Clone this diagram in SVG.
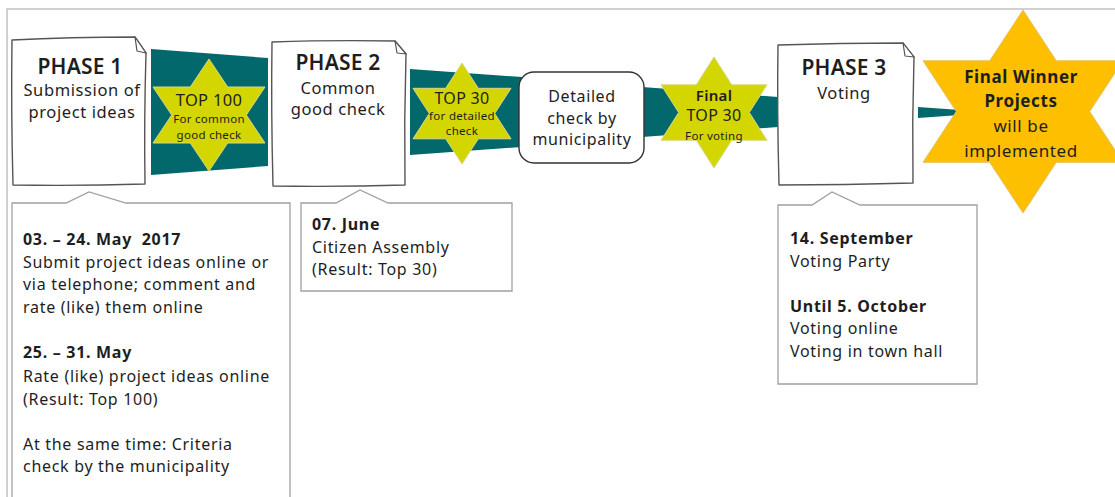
<svg xmlns="http://www.w3.org/2000/svg" width="1115" height="497" viewBox="0 0 1115 497">
<style>
text{font-family:"Noto Sans","Open Sans","DejaVu Sans",sans-serif;fill:#1e1e1e}
.doc{fill:#fff;stroke:#555;stroke-width:1.4;stroke-linejoin:round}
.fold{fill:#fff;stroke:#555;stroke-width:1.2;stroke-linejoin:round}
.band{fill:#02686b}
.ystar{fill:#d3d600;stroke:#d6d88a;stroke-width:1}
.gstar{fill:#fdbf00;stroke:#e8c060;stroke-width:1}
.call{fill:#fff;stroke:#a0a0a0;stroke-width:1.3}
.ph{font-size:21px;font-weight:600;text-anchor:middle;letter-spacing:0.2px}
.sub{font-size:16.5px;text-anchor:middle;letter-spacing:0.6px}
.st1{font-size:16px;text-anchor:middle;letter-spacing:0.3px}
.st2{font-size:11.5px;text-anchor:middle;letter-spacing:0.3px}
.ct{font-size:16px;letter-spacing:0.7px;white-space:pre}
.b{font-weight:700}
</style>
<path d="M7,497 V9 H1115" fill="none" stroke="#d0d0d0" stroke-width="2"/>
<g id="connectors">
<polygon class="band" points="151,49 268,58 268,166 151,175"/>
<polygon class="band" points="410,69 522,77 522,147 410,155"/>
<polygon class="band" points="642,87 778,97 778,127 642,137"/>
<polygon class="band" points="918,107 960,110 960,115 918,118"/>
</g>
<g id="phase1">
<path class="doc" d="M12,40 Q70,37 135,37 L146,53 Q144,120 145,184 Q80,186 13,185 Q11,110 12,40 Z"/>
<path class="fold" d="M135,37 L137,51 L146,53 Z"/>
<text class="ph" x="80" y="74">PHASE 1</text>
<text class="sub" x="82" y="96">Submission of</text>
<text class="sub" x="82" y="118">project ideas</text>
</g>
<g id="top100">
<path class="ystar" d="M209,59 L227.7,87 L265,87 L246.3,115 L265,143 L227.7,143 L209,171 L190.3,143 L153,143 L171.7,115 L153,87 L190.3,87 Z"/>
<text class="st1" x="209" y="106" style="font-size:16.5px">TOP 100</text>
<text class="st2" x="209" y="123">For common</text>
<text class="st2" x="209" y="139">good check</text>
</g>
<g id="phase2">
<path class="doc" d="M272,42 Q330,40 395,41 L406,54 Q404,120 405,185 Q340,187 273,186 Q271,110 272,42 Z"/>
<path class="fold" d="M395,41 L397,53 L406,54 Z"/>
<text class="ph" x="338" y="70">PHASE 2</text>
<text class="sub" x="338" y="94">Common</text>
<text class="sub" x="338" y="115">good check</text>
</g>
<g id="top30">
<path class="ystar" d="M462,63 L478.3,88.3 L511,88.3 L494.7,113.5 L511,138.8 L478.3,138.8 L462,164 L445.7,138.8 L413,138.8 L429.3,113.5 L413,88.3 L445.7,88.3 Z"/>
<text class="st1" x="462" y="104">TOP 30</text>
<text class="st2" x="462" y="120">for detailed</text>
<text class="st2" x="462" y="135">check</text>
</g>
<g id="detailed">
<rect x="519" y="72" width="125" height="91" rx="15" fill="#fff" stroke="#333" stroke-width="1.4"/>
<text class="sub" x="582" y="102" style="font-size:16px">Detailed</text>
<text class="sub" x="582" y="124" style="font-size:16px">check by</text>
<text class="sub" x="582" y="145" style="font-size:16px">municipality</text>
</g>
<g id="finaltop30">
<path class="ystar" d="M714,57 L731.7,84.8 L767,84.8 L749.3,112.5 L767,140.3 L731.7,140.3 L714,168 L696.3,140.3 L661,140.3 L678.7,112.5 L661,84.8 L696.3,84.8 Z"/>
<text class="st1" x="714" y="101" font-weight="600" style="font-size:15px">Final</text>
<text class="st1" x="714" y="121" style="font-size:16px">TOP 30</text>
<text class="st2" x="714" y="140">For voting</text>
</g>
<g id="phase3">
<path class="doc" d="M778,45 Q840,43 903,43 L914,57 Q912,120 913,183 Q845,185 779,185 Q777,110 778,45 Z"/>
<path class="fold" d="M903,43 L905,56 L914,57 Z"/>
<text class="ph" x="844" y="75">PHASE 3</text>
<text class="sub" x="844" y="99">Voting</text>
</g>
<g id="winner">
<path class="gstar" d="M1023,10 L1056.3,60.8 L1123,60.8 L1089.7,111.5 L1123,162.3 L1056.3,162.3 L1023,213 L989.7,162.3 L923,162.3 L956.3,111.5 L923,60.8 L989.7,60.8 Z"/>
<text class="sub b" x="1021" y="83" style="font-size:17px">Final Winner</text>
<text class="sub b" x="1021" y="107" style="font-size:17px">Projects</text>
<text class="sub" x="1021" y="132" style="font-size:17px">will be</text>
<text class="sub" x="1021" y="157" style="font-size:17px">implemented</text>
</g>
<g id="callout1">
<path class="call" d="M12,203 H66 L89,192 L126,203 H290 V500 H12 Z"/>
<text class="ct b" x="23" y="245" xml:space="preserve">03. – 24. May  2017</text>
<text class="ct" x="23" y="268">Submit project ideas online or</text>
<text class="ct" x="23" y="290">via telephone; comment and</text>
<text class="ct" x="23" y="313">rate (like) them online</text>
<text class="ct b" x="23" y="358">25. – 31. May</text>
<text class="ct" x="23" y="382">Rate (like) project ideas online</text>
<text class="ct" x="23" y="405">(Result: Top 100)</text>
<text class="ct" x="23" y="450">At the same time: Criteria</text>
<text class="ct" x="23" y="472">check by the municipality</text>
</g>
<g id="callout2">
<path class="call" d="M301,203 H336 L360,190 L388,203 H512 V291 H301 Z"/>
<text class="ct b" x="312" y="230">07. June</text>
<text class="ct" x="312" y="253">Citizen Assembly</text>
<text class="ct" x="312" y="275">(Result: Top 30)</text>
</g>
<g id="callout3">
<path class="call" d="M778,205 H812 L832,192 L860,205 H977 V384 H778 Z"/>
<text class="ct b" x="790" y="244">14. September</text>
<text class="ct" x="790" y="267">Voting Party</text>
<text class="ct b" x="790" y="312">Until 5. October</text>
<text class="ct" x="790" y="334">Voting online</text>
<text class="ct" x="790" y="357">Voting in town hall</text>
</g>
</svg>
